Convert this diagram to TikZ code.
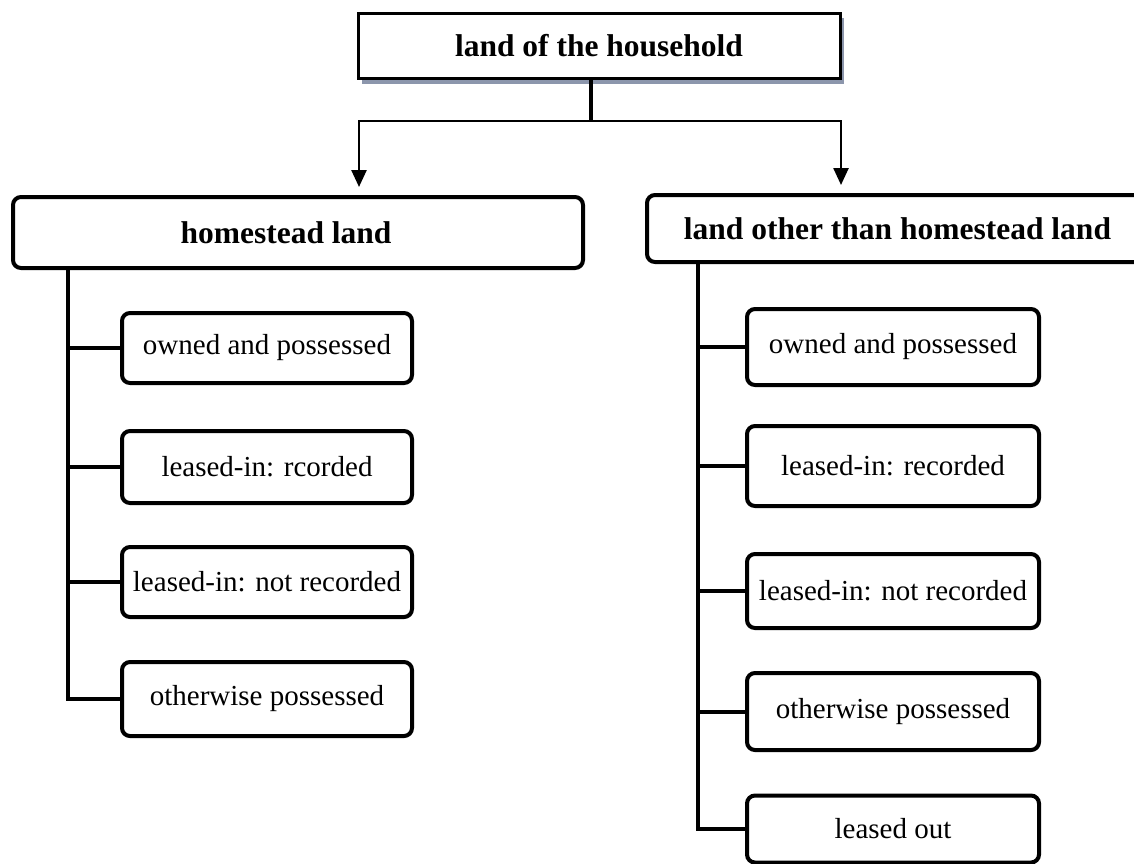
\documentclass[tikz,border=0pt]{standalone}
\usepackage{fontspec}
\setmainfont{Liberation Serif}
\usetikzlibrary{arrows.meta}
\definecolor{shadowcol}{RGB}{140,150,172}
\tikzset{
  topbox/.style={draw, line width=3pt, fill=white, minimum width=482pt, minimum height=65pt, inner sep=0pt, font=\fontsize{31.5}{36}\selectfont\bfseries},
  headbox/.style={draw, line width=4pt, rounded corners=8pt, fill=white, inner sep=0pt, font=\fontsize{31.5}{36}\selectfont\bfseries},
  childbox/.style={draw, line width=4pt, rounded corners=8pt, fill=white, inner sep=0pt, font=\fontsize{29}{34}\selectfont},
  trunk/.style={line width=4pt},
  stem/.style={line width=3.5pt},
  arrowline/.style={line width=2.5pt, -{Triangle[width=15pt,length=17pt]}, shorten >=8pt},
  shadowc/.style={fill=shadowcol}
}
\begin{document}
\begin{tikzpicture}[x=1pt,y=-1pt]
\clip (0,0) rectangle (1134,863);
\fill[white] (0,0) rectangle (1134,863);
% top shadow
\fill[shadowc] (362,18) rectangle (843.5,84);
\node[topbox] (top) at (599,45.5) {land of the household};
% headers
\node[headbox, minimum width=570pt, minimum height=71pt] (hl) at (298,232.5) {homestead land\hspace*{24pt}};
\node[headbox, minimum width=501pt, minimum height=67pt] (ol) at (897.5,228.5) {land other than homestead land};
% left children
\node[childbox, minimum width=290pt, minimum height=70pt] (l1) at (267,348) {owned and possessed};
\node[childbox, minimum width=290pt, minimum height=72pt] (l2) at (267,467) {leased-in: rcorded};
\node[childbox, minimum width=290pt, minimum height=70pt] (l3) at (267,582) {leased-in: not recorded};
\node[childbox, minimum width=290pt, minimum height=74pt] (l4) at (267,699) {otherwise possessed};
% right children
\node[childbox, minimum width=292pt, minimum height=76pt] (r1) at (893,347) {owned and possessed};
\node[childbox, minimum width=292pt, minimum height=80pt] (r2) at (893,466) {leased-in: recorded};
\node[childbox, minimum width=292pt, minimum height=74pt] (r3) at (893,591) {leased-in: not recorded};
\node[childbox, minimum width=292pt, minimum height=77pt] (r4) at (893,711.5) {otherwise possessed};
\node[childbox, minimum width=292pt, minimum height=67pt] (r5) at (893,829) {leased out};
% top connectors
\coordinate (j) at (591,121);
\coordinate (al) at (359,0);
\coordinate (ar) at (841,0);
\draw[stem] (top.south -| j) -- (j);
\draw[arrowline] (j) -| (hl.north -| al);
\draw[arrowline] (j) -| (ol.north -| ar);
% left trunk
\coordinate (lt) at (68,0);
\draw[trunk] (hl.south -| lt) |- (l4.west);
\foreach \i in {1,2,3} \draw[trunk] (l\i.west) -- (l\i.west -| lt);
% right trunk
\coordinate (rt) at (698,0);
\draw[trunk] (ol.south -| rt) |- (r5.west);
\foreach \i in {1,2,3,4} \draw[trunk] (r\i.west) -- (r\i.west -| rt);
\end{tikzpicture}
\end{document}
